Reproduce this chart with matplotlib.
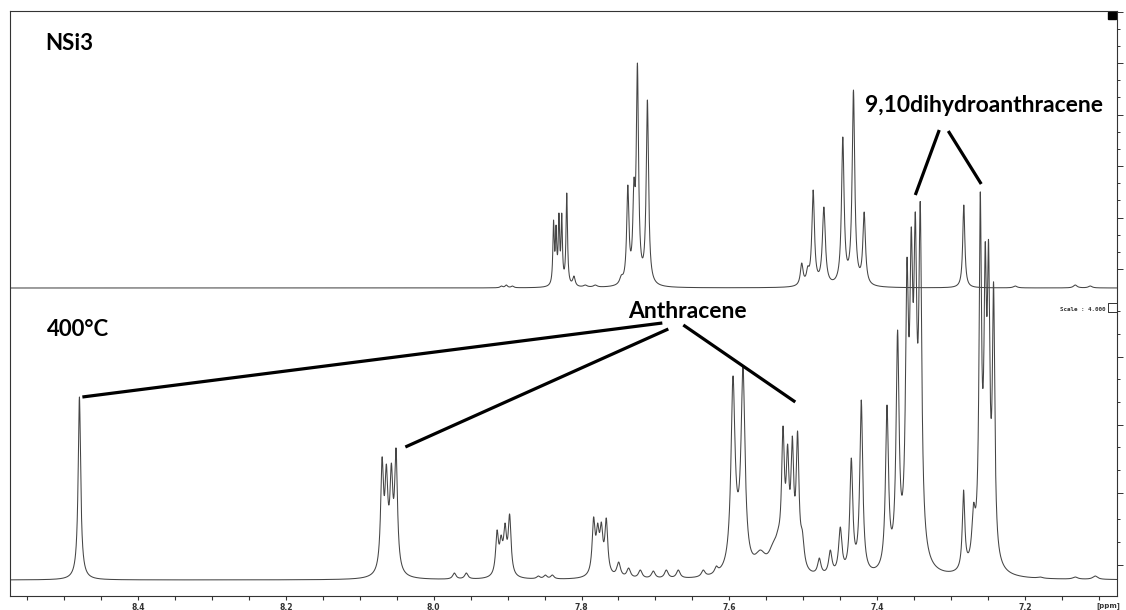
import numpy as np
import matplotlib.pyplot as plt
from matplotlib.lines import Line2D

# ---- NSi3 (upper trace): peak position [ppm], height, half width [ppm]
top_ppm = [7.9085, 7.9018, 7.8936, 7.8379, 7.8345, 7.8306, 7.8268, 7.8200, 7.8103,
           7.7949, 7.7814, 7.7462, 7.7374, 7.7291, 7.7244, 7.7109,
           7.5021, 7.4939, 7.4866, 7.4721, 7.4465, 7.4321, 7.4176,
           7.2828, 7.2132, 7.1320, 7.1117]
top_height = [2, 3, 2, 68, 63, 75, 75, 95, 12,
              3, 3, 13, 103, 110, 225, 188,
              25, 22, 98, 81, 151, 198, 76,
              83, 2, 3, 2]
top_hwhm = [0.002, 0.002, 0.002, 0.0011, 0.0011, 0.0011, 0.0011, 0.0012, 0.002,
            0.003, 0.003, 0.0027, 0.0018, 0.0018, 0.0018, 0.0019,
            0.0022, 0.0022, 0.0021, 0.0024, 0.0021, 0.0021, 0.0021,
            0.0017, 0.003, 0.003, 0.003]

# ---- 400 C (lower trace)
low_ppm = [8.4794, 8.0699, 8.0641, 8.0573, 8.0510, 7.9721, 7.9559,
           7.9143, 7.9089, 7.9035, 7.8973, 7.8585, 7.8490, 7.8395,
           7.7837, 7.7782, 7.7732, 7.7665, 7.7498, 7.7363, 7.7205, 7.7029,
           7.6853, 7.6691, 7.6353, 7.6177, 7.5951, 7.5815, 7.5581, 7.5406,
           7.5338, 7.5274, 7.5212, 7.5148, 7.5077, 7.5013, 7.4783, 7.4634,
           7.4499, 7.4350, 7.4215, 7.3867, 7.3724, 7.3597, 7.3539, 7.3484,
           7.3417, 7.2831, 7.2696, 7.2605, 7.2538, 7.2493, 7.2425,
           7.1794, 7.1320, 7.1050]
low_height = [183, 123, 116, 117, 132, 7, 7,
              50, 45, 57, 66, 4, 5, 5,
              63, 57, 58, 62, 18, 12, 10, 9,
              10, 10, 10, 14, 204, 213, 30, 38,
              52, 154, 136, 144, 149, 50, 22, 30,
              53, 122, 180, 175, 250, 322, 353, 368,
              378, 90, 77, 388, 338, 340, 298,
              3, 3, 4]
low_hwhm = [0.0020, 0.0023, 0.0023, 0.0023, 0.0023, 0.0027, 0.0027,
            0.0023, 0.0023, 0.0023, 0.0023, 0.0027, 0.0027, 0.0027,
            0.0023, 0.0023, 0.0023, 0.0023, 0.0030, 0.0030, 0.0030, 0.0030,
            0.0030, 0.0030, 0.0030, 0.0027, 0.0032, 0.0032, 0.0090, 0.0080,
            0.0050, 0.0023, 0.0023, 0.0023, 0.0023, 0.0030, 0.0027, 0.0027,
            0.0027, 0.0024, 0.0024, 0.0024, 0.0024, 0.0023, 0.0023, 0.0023,
            0.0023, 0.0020, 0.0027, 0.0019, 0.0019, 0.0019, 0.0019,
            0.004, 0.004, 0.004]
# broad feet under the peak groups
low_broad_ppm = [8.4794, 8.0600, 7.9060, 7.7750, 7.5890, 7.3500, 7.2530]
low_broad_amp = [6, 12, 6, 8, 18, 45, 45]
low_broad_hwhm = [0.006, 0.008, 0.007, 0.008, 0.008, 0.009, 0.008]

tick_ppm = [8.4, 8.2, 8.0, 7.8, 7.6, 7.4, 7.2]


def lorentz(x, c, w):
    return 1.0 / (1.0 + ((x - c) / w) ** 2)


def trace(grid, ppm, height, hwhm, bppm=(), bamp=(), bhw=()):
    c = np.array(ppm)
    h = np.array(height, float)
    w = np.array(hwhm)
    base_c = np.zeros_like(c)
    for p, a, s in zip(bppm, bamp, bhw):
        base_c += a * lorentz(c, p, s)
    M = lorentz(c[:, None], c[None, :], w[None, :])
    amp = h.copy()
    # fit line amplitudes so the peak tops land at the read heights
    for _ in range(300):
        amp = np.clip(amp + 0.6 * (h - (M @ amp + base_c)), 0, None)
    y = (amp[None, :] * lorentz(grid[:, None], c[None, :], w[None, :])).sum(1)
    for p, a, s in zip(bppm, bamp, bhw):
        y += a * lorentz(grid, p, s)
    return y


x_left, x_right = 8.574, 7.0755
grid = np.linspace(x_left, x_right, 16000)
upper = trace(grid, top_ppm, top_height, top_hwhm)
lower = trace(grid, low_ppm, low_height, low_hwhm, low_broad_ppm, low_broad_amp, low_broad_hwhm)

W, H = 1126, 610
fig = plt.figure(figsize=(W / 100, H / 100), dpi=100)
ax = fig.add_axes([9.5 / W, (H - 596) / H, (1117 - 9.5) / W, (596 - 11) / H])
ax.set_xlim(x_left, x_right)
ax.set_ylim(0, 585)

line_col = '#454545'
ax.plot(grid, 308 + upper, color=line_col, lw=0.75)
ax.plot(grid, 16 + lower, color=line_col, lw=0.75)

for s in ax.spines.values():
    s.set_linewidth(0.8)
    s.set_color('#333333')

ax.set_xticks(tick_ppm)
ax.set_xticklabels([f'{t:.1f}' for t in tick_ppm], fontsize=5.5, fontweight='bold')
ax.set_xticks(np.arange(7.1, 8.56, 0.05), minor=True)
ax.tick_params(axis='x', which='both', direction='out', length=3, width=0.8, pad=2, colors='#333333')

# right-hand intensity ticks (two vertical scales)
up_major = [269, 217.5, 166, 114.5, 63, 11.5]
low_major = [565, 493, 425, 357]
maj_px = up_major + low_major
min_px = [p - k * 17.2 for p in up_major for k in (1, 2)] + \
         [p - k * 23 for p in low_major for k in (1, 2)]
ax.yaxis.set_ticks_position('right')
ax.set_yticks([596 - p for p in maj_px])
ax.set_yticklabels([])
ax.set_yticks([596 - p for p in min_px if 11 < p < 596], minor=True)
ax.tick_params(axis='y', which='major', direction='out', length=4, width=0.7, colors='#333333')
ax.tick_params(axis='y', which='minor', direction='out', length=2.5, width=0.7, colors='#333333')

# labels
lab_font = ['Lato', 'DejaVu Sans']
ax.text(8.5254, 553, 'NSi3', fontsize=16, fontweight='bold', family=lab_font, va='center', ha='left')
ax.text(8.5227, 266, '400°C', fontsize=16, fontweight='bold', family=lab_font, va='center', ha='left')
ax.text(7.7367, 285, 'Anthracene', fontsize=16.5, fontweight='bold', family=lab_font, va='center', ha='left')
ax.text(7.0940, 491, '9,10dihydroanthracene', fontsize=16.5, fontweight='bold', family=lab_font,
        va='center', ha='right')

# connector lines (ppm, intensity)
connectors = [
    ((8.4754, 199), (7.6907, 273)),
    ((8.0384, 149), (7.6826, 267)),
    ((7.6623, 271), (7.5108, 194)),
    ((7.3160, 466), (7.3484, 401)),
    ((7.3038, 465), (7.2592, 412)),
]
for (x0, y0), (x1, y1) in connectors:
    ax.plot([x0, x1], [y0, y1], color='black', lw=2.3, solid_capstyle='butt')

# small marks of the spectrometer printout
ax.add_patch(plt.Rectangle((0.9915, 0.9865), 0.0075, 0.012, transform=ax.transAxes,
                           color='black', clip_on=False))
ax.add_line(Line2D([1.0, 0.9919, 0.9919, 1.0], [0.5009, 0.5009, 0.4855, 0.4855],
                   transform=ax.transAxes, color='#333333', lw=0.7, clip_on=False))
ax.text(0.9900, 0.4895, 'Scale : 4.000', transform=ax.transAxes, fontsize=4.2,
        family='DejaVu Sans Mono', fontweight='bold', ha='right', va='center', color='#333333')
fig.text(1108 / W, 1 - 606 / H, '[ppm]', fontsize=5, fontweight='bold', ha='center', va='center',
         color='#333333')

fig.savefig('out.png', dpi=100)
